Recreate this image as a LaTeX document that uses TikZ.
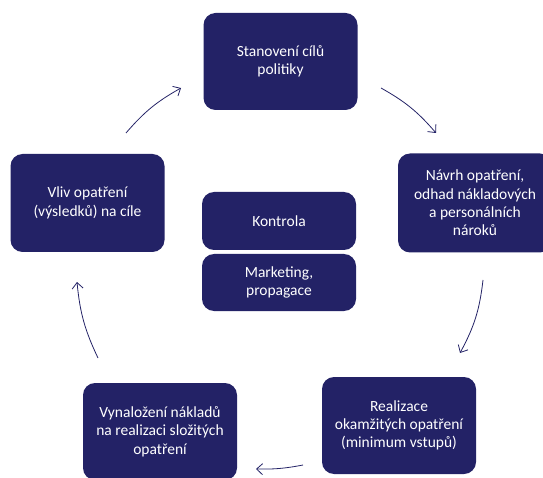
\documentclass[tikz,border=0pt]{standalone}
\usepackage{fontspec}
\setmainfont{Carlito}
\usetikzlibrary{arrows.meta}
\definecolor{navy}{RGB}{35,34,102}
\begin{document}
\begin{tikzpicture}[x=1pt,y=1pt,
  box/.style={draw=none, fill=navy, rounded corners=12pt, text=white, align=center,
    minimum width=154pt, minimum height=97pt, inner sep=2pt,
    font=\fontsize{15.5}{18.3}\selectfont},
  smallbox/.style={box, minimum height=57pt},
  arr/.style={draw=navy, line width=0.8pt, -{Straight Barb[length=6pt,width=11pt]}}]
\useasboundingbox (0,0) rectangle (543,-478);
\clip (0,0) rectangle (543,-478);
\node[box] (top) at (280.5,-61.5) {Stanovení cílů\\politiky};
\node[box, minimum height=99pt] (right) at (475,-203) {Návrh opatření,\\odhad nákladových\\a personálních\\nároků};
\node[box, minimum height=98pt] (left) at (87.5,-203) {Vliv opatření\\(výsledků) na cíle};
\node[smallbox, minimum height=58pt] (kontrola) at (279,-221) {Kontrola};
\node[smallbox] (marketing) at (279,-282.5) {Marketing,\\propagace};
\node[box] (bl) at (160,-431.5) {Vynaložení nákladů\\na realizaci složitých\\opatření};
\node[box] (br) at (399,-425.5) {Realizace\\okamžitých opatření\\(minimum vstupů)};

\coordinate (a1s) at (381,-88);  \coordinate (a1e) at (436,-133);
\coordinate (a2s) at (483,-280); \coordinate (a2e) at (460,-353);
\coordinate (a3s) at (303,-465); \coordinate (a3e) at (256,-469);
\coordinate (a4s) at (98,-358);  \coordinate (a4e) at (77,-282);
\coordinate (a5s) at (126,-133); \coordinate (a5e) at (181,-88);

\draw[arr] (a1s) to[bend left=10] (a1e);
\draw[arr] (a2s) to[bend left=11] (a2e);
\draw[arr] (a3s) to[bend left=6] (a3e);
\draw[arr] (a4s) to[bend left=10] (a4e);
\draw[arr] (a5s) to[bend left=10] (a5e);
\end{tikzpicture}
\end{document}
